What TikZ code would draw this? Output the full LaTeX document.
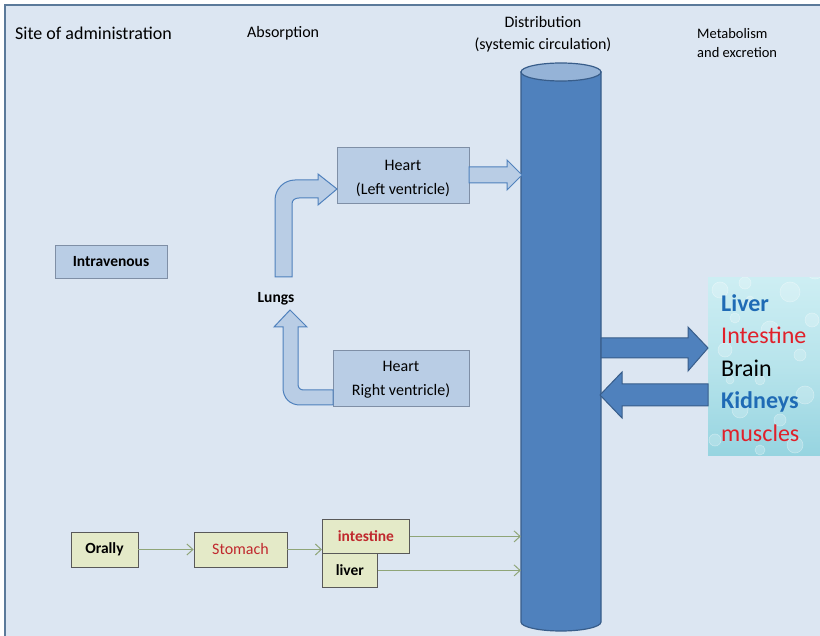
\documentclass[tikz,border=0pt]{standalone}
\usepackage{fontspec}
\setmainfont{Carlito}
\usetikzlibrary{arrows.meta}
\definecolor{bg}{HTML}{DCE6F2}
\definecolor{framec}{HTML}{5B7A9A}
\definecolor{cylbody}{HTML}{4F81BD}
\definecolor{cyltop}{HTML}{95B3D7}
\definecolor{cylline}{HTML}{385D8A}
\definecolor{heartfill}{HTML}{B9CDE5}
\definecolor{heartline}{HTML}{7F8FA6}
\definecolor{bentline}{HTML}{4F81BD}
\definecolor{greenbox}{HTML}{E4EAC8}
\definecolor{greenarrow}{HTML}{8FA578}
\definecolor{darkred}{HTML}{C0282D}
\definecolor{orgblue}{HTML}{1F6BB5}
\definecolor{orgred}{HTML}{E0202A}
\definecolor{cyanA}{HTML}{CDEEF3}
\definecolor{cyanB}{HTML}{96D4E0}
\begin{document}
\begin{tikzpicture}[x=1pt,y=-1pt,
  head/.style={font=\fontsize{18}{20}\selectfont, inner sep=0},
  headsm/.style={font=\fontsize{16}{22}\selectfont, inner sep=0},
  heartbox/.style={draw=heartline, fill=heartfill, line width=0.8, inner sep=0},
  hearttext/.style={inner sep=0, align=center, font=\fontsize{16}{24}\selectfont},
  ivbox/.style={draw=heartline, fill=heartfill, line width=0.8, inner sep=0,
     font=\bfseries\fontsize{15.5}{16}\selectfont},
  gbox/.style={draw=gray!70!black, fill=greenbox, line width=0.8, inner sep=0,
     font=\fontsize{16}{16}\selectfont},
  gboxb/.style={gbox, font=\bfseries\fontsize{15.5}{16}\selectfont},
  garrow/.style={draw=greenarrow, line width=1, -{Straight Barb[length=6pt,width=11pt]}},
  bent/.style={draw=bentline, fill=heartfill, line width=1},
  bigarrow/.style={draw=cylline, fill=cylbody, line width=1},
]
\path[use as bounding box] (0,0) rectangle (820,636);
\fill[white] (0,0) rectangle (820,636);
\fill[bg] (5,5) rectangle (820,636);
\draw[framec, line width=2] (5,636) -- (5,5) -- (820,5);

% headings
\node[head, anchor=west] (site) at (15,33) {Site of administration};
\node[headsm, anchor=west] (abs) at (247,33) {Absorption};
\node[headsm, align=center] (dist) at (543,34) {Distribution\\(systemic circulation)};
\node[font=\fontsize{14.5}{19}\selectfont, inner sep=0, align=left, anchor=west] (met) at (697,43) {Metabolism\\and excretion};

% cylinder
\node[minimum width=80, minimum height=550, inner sep=0] (cyl) at (561,347) {};
\filldraw[fill=cylbody, draw=cylline, line width=1.2]
  (521,72) -- (521,622) arc[start angle=180, end angle=360, x radius=40pt, y radius=9pt] -- (601,72) -- cycle;
\filldraw[fill=cyltop, draw=cylline, line width=1.2] (561,72) ellipse [x radius=40pt, y radius=9pt];

% heart boxes
\node[heartbox, minimum width=132, minimum height=56] (lv) at (403,175) {};
\node[hearttext] (lvt) at (403,178) {Heart\\(Left ventricle)};
\node[heartbox, minimum width=136, minimum height=56] (rv) at (401,378) {};
\node[hearttext] (rvt) at (401,380) {Heart\\Right ventricle)};
\node[ivbox, minimum width=112, minimum height=33] (iv) at (111,261.5) {Intravenous};
\node[font=\bfseries\fontsize{15.5}{16}\selectfont, inner sep=0] (lungs) at (276,299) {Lungs};

% bent arrow lungs -> left ventricle
\path[bent] (275,277) -- (275,200) .. controls (275,189) and (284,180) .. (295,180)
  -- (318,180) -- (318,174) -- (337,189) -- (318,205) -- (318,198) -- (299,198)
  .. controls (295,198) and (292,200) .. (292,204) -- (292,277) -- cycle;
% bent arrow right ventricle -> lungs
\path[bent] (333,390) -- (304,390) .. controls (300,390) and (298,388) .. (298,384)
  -- (298,327) -- (307,327) -- (290,310) -- (274,327) -- (283,327) -- (283,388)
  .. controls (283,398) and (290,405) .. (300,405) -- (333,405) -- cycle;
% left ventricle -> circulation
\path[bent] (469,167) -- (507,167) -- (507,160) -- (522,175) -- (507,190) -- (507,183) -- (469,183) -- cycle;

% organ box
\node[minimum width=112, minimum height=178, inner sep=0] (organs) at (764,367) {};
\shade[top color=cyanA, bottom color=cyanB, middle color=cyanA!60!cyanB] (708,278) rectangle (820,456);
\begin{scope}
\clip (708,278) rectangle (820,456);
\foreach \cx/\cy/\r in {720/290/8, 745/283/6, 790/292/10, 812/320/7, 735/318/5, 770/330/9,
  800/355/6, 725/350/7, 760/380/5, 805/395/9, 740/410/8, 780/420/6, 715/440/6, 795/445/8,
  760/450/5, 750/300/4, 815/270/9, 730/380/4}
  \filldraw[fill=white, fill opacity=0.2, draw=white, draw opacity=0.35, line width=0.6] (\cx,\cy) circle (\r pt);
\end{scope}
\node[inner sep=0, anchor=west, align=left, font=\fontsize{24}{32.5}\selectfont] (orglist) at (721,368)
  {\textcolor{orgblue}{\bfseries Liver}\\
   \textcolor{orgred}{Intestine}\\
   Brain\\
   \textcolor{orgblue}{\bfseries Kidneys}\\
   \textcolor{orgred}{muscles}};

% big arrows
\path[bigarrow] (601,338) -- (688,338) -- (688,327) -- (708,348) -- (688,371) -- (688,358) -- (601,358) -- cycle;
\path[bigarrow] (708,384) -- (622,384) -- (622,372) -- (600,395) -- (622,418) -- (622,406) -- (708,406) -- cycle;

% oral route
\node[gboxb, minimum width=67, minimum height=35] (orally) at (104.5,549.5) {Orally};
\node[gbox, text=darkred, minimum width=93, minimum height=35] (stomach) at (240.5,549.5) {Stomach\hspace{8pt}};
\node[gboxb, text=darkred, minimum width=87, minimum height=34, anchor=north west] (intestine) at (322,519) {intestine\hspace{6pt}};
\node[gboxb, minimum width=55, minimum height=34, anchor=north west] (liver) at (322,553) {liver\hspace{8pt}};

\draw[garrow] (orally) -- (stomach);
\draw[garrow] (stomach) -- (stomach -| intestine.west);
\draw[garrow] (intestine) -- (intestine -| cyl.west);
\draw[garrow] (liver) -- (liver -| cyl.west);
\end{tikzpicture}
\end{document}
